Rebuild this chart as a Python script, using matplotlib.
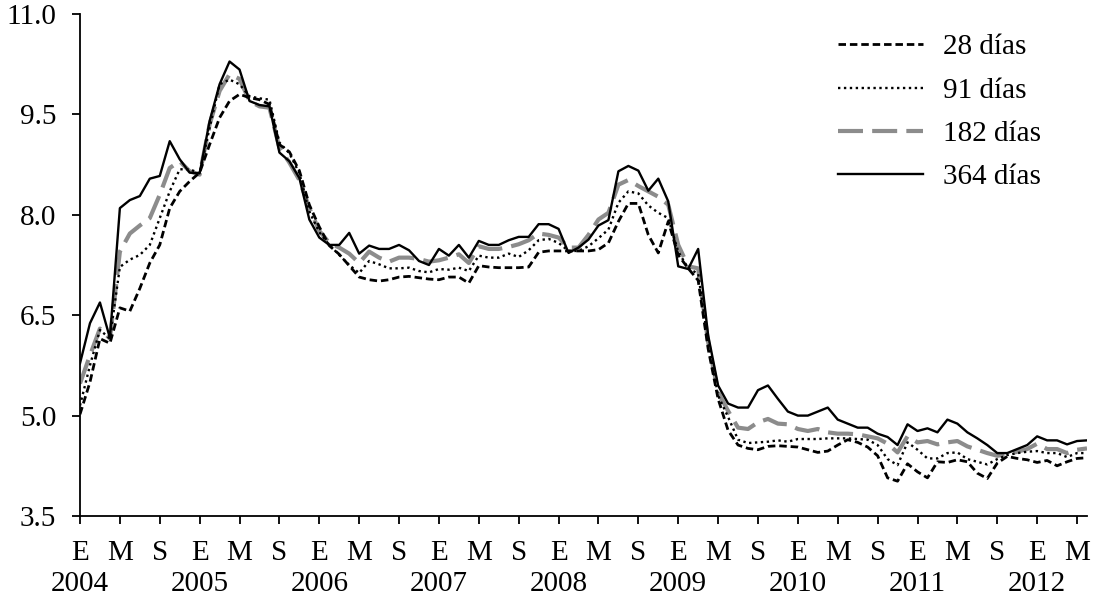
import matplotlib
matplotlib.use("Agg")
import matplotlib.pyplot as plt
import numpy as np

# monthly rates, Jan 2004 - Jun 2012
months = np.arange(102)

cetes_28 = [5.02, 5.50, 6.15, 6.08, 6.61, 6.56, 6.90, 7.28, 7.55, 8.10,
            8.35, 8.50, 8.63, 9.05, 9.45, 9.70, 9.80, 9.75, 9.72, 9.65,
            9.05, 8.94, 8.66, 8.15, 7.82, 7.54, 7.41, 7.24, 7.07, 7.03,
            7.01, 7.03, 7.07, 7.08, 7.06, 7.04, 7.03, 7.07, 7.07, 6.98,
            7.24, 7.22, 7.21, 7.21, 7.21, 7.22, 7.44, 7.46, 7.46, 7.46,
            7.46, 7.46, 7.48, 7.58, 7.90, 8.17, 8.17, 7.70, 7.43, 7.90,
            7.40, 7.20, 7.02, 6.00, 5.25, 4.78, 4.56, 4.51, 4.49, 4.54,
            4.55, 4.54, 4.53, 4.49, 4.45, 4.47, 4.56, 4.64, 4.60, 4.53,
            4.40, 4.07, 4.02, 4.28, 4.16, 4.07, 4.31, 4.30, 4.34, 4.31,
            4.14, 4.06, 4.29, 4.39, 4.36, 4.34, 4.30, 4.33, 4.25, 4.31,
            4.36, 4.37]

cetes_91 = [5.15, 5.75, 6.28, 6.15, 7.22, 7.33, 7.40, 7.55, 7.95, 8.35,
            8.68, 8.68, 8.62, 9.30, 9.95, 10.02, 9.95, 9.77, 9.74, 9.72,
            9.08, 8.92, 8.62, 8.05, 7.74, 7.55, 7.40, 7.25, 7.13, 7.31,
            7.26, 7.20, 7.20, 7.21, 7.16, 7.14, 7.19, 7.18, 7.21, 7.16,
            7.39, 7.36, 7.36, 7.42, 7.37, 7.47, 7.62, 7.64, 7.58, 7.46,
            7.46, 7.53, 7.65, 7.78, 8.18, 8.35, 8.32, 8.14, 8.03, 7.95,
            7.45, 7.20, 7.12, 6.10, 5.30, 4.98, 4.64, 4.59, 4.60, 4.61,
            4.63, 4.61, 4.65, 4.65, 4.65, 4.66, 4.66, 4.66, 4.65, 4.64,
            4.56, 4.35, 4.26, 4.60, 4.49, 4.36, 4.36, 4.44, 4.45, 4.35,
            4.31, 4.27, 4.35, 4.41, 4.44, 4.46, 4.47, 4.44, 4.44, 4.38,
            4.44, 4.44]

cetes_182 = [5.48, 5.90, 6.30, 6.15, 7.45, 7.72, 7.84, 7.95, 8.30, 8.70,
             8.80, 8.65, 8.60, 9.35, 9.85, 10.10, 10.03, 9.70, 9.62, 9.60,
             9.00, 8.78, 8.52, 8.10, 7.76, 7.58, 7.51, 7.42, 7.28, 7.45,
             7.36, 7.30, 7.36, 7.36, 7.34, 7.30, 7.32, 7.36, 7.41, 7.28,
             7.53, 7.49, 7.49, 7.52, 7.56, 7.62, 7.72, 7.70, 7.66, 7.51,
             7.51, 7.70, 7.93, 8.03, 8.45, 8.52, 8.43, 8.35, 8.27, 8.15,
             7.55, 7.23, 7.20, 6.10, 5.35, 5.07, 4.82, 4.80, 4.90, 4.95,
             4.88, 4.87, 4.80, 4.77, 4.80, 4.75, 4.73, 4.73, 4.72, 4.69,
             4.66, 4.58, 4.45, 4.69, 4.60, 4.62, 4.57, 4.60, 4.62, 4.54,
             4.49, 4.44, 4.40, 4.42, 4.46, 4.50, 4.58, 4.50, 4.50, 4.44,
             4.49, 4.51]

cetes_364 = [5.78, 6.38, 6.69, 6.16, 8.10, 8.22, 8.28, 8.54, 8.58, 9.10,
             8.83, 8.63, 8.62, 9.40, 9.95, 10.29, 10.17, 9.70, 9.64, 9.62,
             8.93, 8.80, 8.55, 7.93, 7.66, 7.55, 7.55, 7.73, 7.42, 7.54,
             7.49, 7.49, 7.55, 7.47, 7.31, 7.25, 7.49, 7.39, 7.55, 7.36,
             7.61, 7.55, 7.55, 7.62, 7.67, 7.67, 7.86, 7.86, 7.79, 7.43,
             7.51, 7.63, 7.84, 7.92, 8.65, 8.73, 8.66, 8.36, 8.54, 8.20,
             7.23, 7.19, 7.49, 6.20, 5.45, 5.18, 5.12, 5.12, 5.38, 5.45,
             5.25, 5.06, 5.00, 5.00, 5.06, 5.12, 4.94, 4.88, 4.82, 4.82,
             4.73, 4.68, 4.56, 4.87, 4.77, 4.81, 4.75, 4.94, 4.88, 4.75,
             4.66, 4.56, 4.44, 4.44, 4.50, 4.56, 4.69, 4.63, 4.63, 4.57,
             4.62, 4.63]

month_letters = ["E", "M", "S"]
years = list(range(2004, 2013))
y_ticks = [3.5, 5.0, 6.5, 8.0, 9.5, 11.0]

plt.rcParams["font.family"] = ["Liberation Serif", "DejaVu Serif"]
plt.rcParams["font.size"] = 21

fig = plt.figure(figsize=(10.97, 5.99), dpi=100)
ax = fig.add_axes([80 / 1097, 83 / 599, 1007 / 1097, 502 / 599])

ax.plot(months, cetes_28, color="black", lw=2.0, dashes=(2.7, 1.4),
        label="28 días", zorder=3)
ax.plot(months, cetes_91, color="black", lw=1.7, dashes=(1, 1.5),
        label="91 días", zorder=3)
ax.plot(months, cetes_182, color="#8c8c8c", lw=3.0, dashes=(6, 2.2),
        label="182 días", zorder=2)
ax.plot(months, cetes_364, color="black", lw=1.7, label="364 días", zorder=4)

ax.set_xlim(0, 101)
ax.set_ylim(3.5, 11.0)
ax.set_yticks(y_ticks)
ax.set_yticklabels([f"{v:.1f}" for v in y_ticks])

tick_pos = list(range(0, 102, 4))
tick_lab = []
for p in tick_pos:
    letter = month_letters[(p // 4) % 3]
    if letter == "E":
        tick_lab.append(f"E\n{years[p // 12]}")
    else:
        tick_lab.append(letter)
ax.set_xticks(tick_pos)
ax.set_xticklabels(tick_lab, linespacing=1.25)

for side in ["top", "right"]:
    ax.spines[side].set_visible(False)
for side in ["left", "bottom"]:
    ax.spines[side].set_linewidth(1.3)
ax.tick_params(axis="y", direction="out", length=6, width=1.3, pad=11)
ax.tick_params(axis="x", direction="out", length=6, width=1.3, pad=11)

ax.legend(loc="upper left", bbox_to_anchor=(838 / 1097, 1 - 34 / 599),
          bbox_transform=fig.transFigure, frameon=False, handlelength=2.9,
          handletextpad=0.7, labelspacing=0.58, borderaxespad=0,
          borderpad=0)

fig.savefig("out.png", dpi=100)
